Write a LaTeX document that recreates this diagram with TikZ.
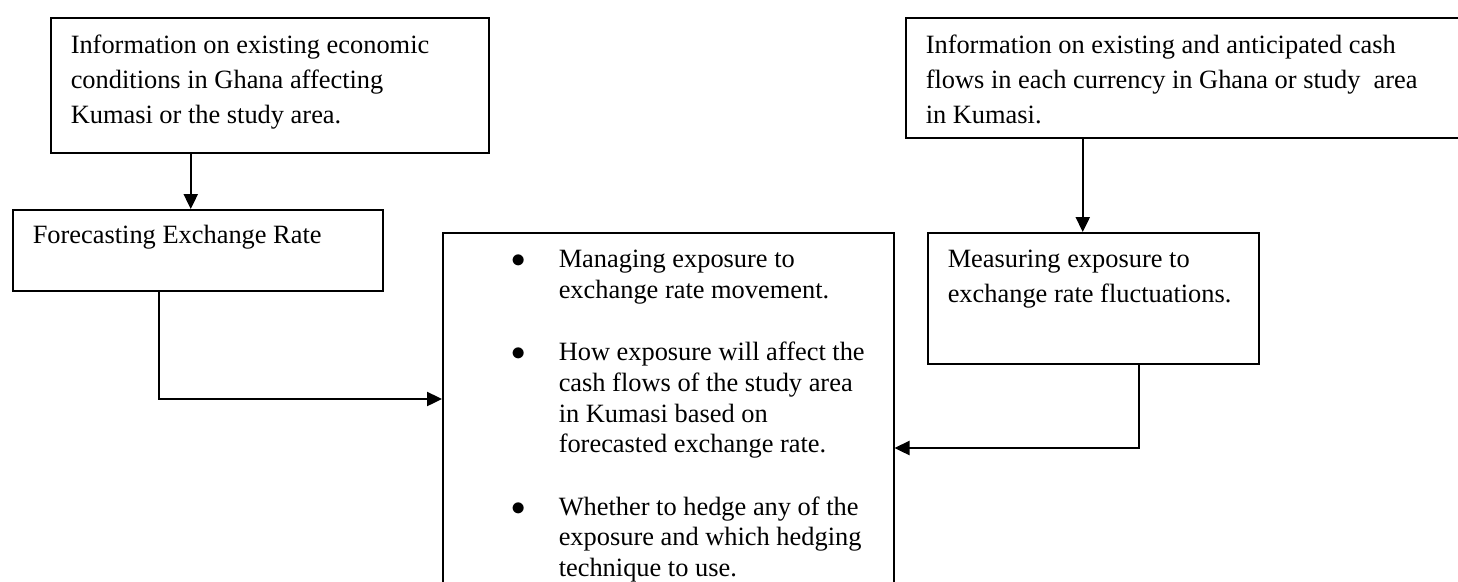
\documentclass[tikz,border=0pt]{standalone}
\usepackage{fontspec}
\setmainfont{Liberation Serif}
\usetikzlibrary{arrows.meta}

\begin{document}
\begin{tikzpicture}[x=1pt,y=-1pt,
    box/.style={draw, line width=1.5pt, anchor=north west, inner xsep=20pt, inner ysep=0pt,
        font=\fontsize{26.4}{35}\selectfont},
    conn/.style={line width=2.4pt, -{Triangle[length=15pt,width=14pt]}}]
    \clip (0,0) rectangle (1458,581);
    \node[box] (info1) at (50,17) {\parbox[t][135pt][t]{398pt}{\raggedright\rule{0pt}{36pt}Information on existing economic\\
        conditions in Ghana affecting\\ Kumasi or the study area.}};
    \node[box] (fore) at (12,209) {\parbox[t][81pt][t]{330pt}{\raggedright\rule{0pt}{34pt}Forecasting Exchange Rate}};
    \node[box, inner xsep=0pt, font=\fontsize{26.4}{30.6}\selectfont] (core) at (442,232) {\parbox[t][368pt][t]{451pt}{\raggedright\leftskip=116pt
        \noindent\rule{0pt}{35pt}\llap{\scalebox{1.15}{$\bullet$}\hspace{33pt}}Managing exposure to\\ exchange rate movement.\par\vspace{32pt}
        \noindent\llap{\scalebox{1.15}{$\bullet$}\hspace{33pt}}How exposure will affect the\\ cash flows of the study area\\ in Kumasi based on\\ forecasted exchange rate.\par\vspace{32pt}
        \noindent\llap{\scalebox{1.15}{$\bullet$}\hspace{33pt}}Whether to hedge any of the\\ exposure and which hedging\\ technique to use.}};
    \node[box] (info2) at (905,17) {\parbox[t][120pt][t]{535pt}{\raggedright\rule{0pt}{36pt}Information on existing and anticipated cash\\
        flows in each currency in Ghana or study\ \ area\\ in Kumasi.}};
    \node[box] (measure) at (927,232) {\parbox[t][131pt][t]{291pt}{\raggedright\rule{0pt}{35pt}Measuring exposure to\\
        exchange rate fluctuations.}};
    \draw[conn] ([xshift=-79pt]info1.south) -- ([xshift=-79pt]info1.south |- fore.north);
    \draw[conn] ([xshift=-39pt]fore.south) |- ([yshift=-167pt]core.north west);
    \draw[conn] ([xshift=-10.5pt]measure.north |- info2.south) -- ([xshift=-10.5pt]measure.north);
    \draw[conn] ([xshift=45.5pt]measure.south) |- ([yshift=-216pt]core.north east);
\end{tikzpicture}
\end{document}
